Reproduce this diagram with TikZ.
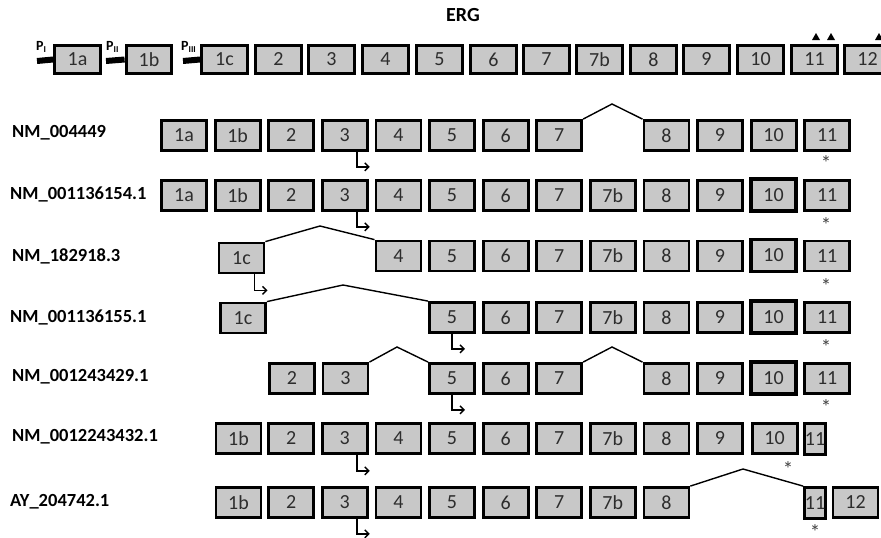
\documentclass[tikz,border=0pt]{standalone}
\usepackage{fontspec}
\setmainfont{Carlito}
\usetikzlibrary{arrows.meta}
\definecolor{exfill}{RGB}{200,200,200}
\definecolor{extext}{RGB}{45,45,45}
\newcommand{\astmark}{\raisebox{-0.54em}[0pt][0pt]{*}}
\begin{document}
\begin{tikzpicture}[x=1pt,y=-1pt,
  exon/.style={draw, line width=2.8pt, fill=exfill, minimum width=45pt, minimum height=30pt, inner sep=0pt, font=\fontsize{20}{20}\selectfont, text=extext},
  topexon/.style={exon, line width=3.3pt, minimum width=45.5pt, minimum height=27.5pt},
  thickten/.style={exon, line width=3.4pt, minimum height=32pt},
  narrowexon/.style={exon, minimum width=21pt, minimum height=31pt},
  lbl/.style={anchor=west, inner sep=0pt, font=\bfseries\fontsize{18.5}{18.5}\selectfont},
  plbl/.style={anchor=west, inner sep=0pt, font=\bfseries\fontsize{14}{14}\selectfont},
  promoter/.style={line width=6pt},
  splice/.style={line width=1.4pt},
  tss/.style={line width=1.4pt, -{Straight Barb[length=4pt,width=8pt,line width=1.4pt]}},
  star/.style={inner sep=0pt, font=\fontsize{21}{21}\selectfont, text=black!75},
  mark tri/.style={fill=black}
]
\useasboundingbox (0,0) rectangle (881,538);

% title
\node[font=\bfseries\fontsize{20}{20}\selectfont] (title) at (463,15) {ERG};

% genomic structure
\foreach \n/\x in {1a/77.5,1b/149,1c/224.5,2/278.5,3/331.5,4/385.5,5/439.5,6/493.5,7/546.5,7b/599.5,8/653.5,9/706.5,10/760.5,11/814.5,12/867.5}
  \node[topexon] (t\n) at (\x,59.5) {\n};
\coordinate (pa) at (37,61);
\coordinate (pb) at (106,61);
\coordinate (pc) at (183,61);
\draw[promoter] (pa) -- (t1a.west);
\draw[promoter] (pb) -- (t1b.west);
\draw[promoter] (pc) -- (t1c.west);
\node[plbl] (lpa) at (36,47) {P\raisebox{-0.35ex}{\fontsize{9}{9}\selectfont I}};
\node[plbl] (lpb) at (106,47) {P\raisebox{-0.35ex}{\fontsize{9}{9}\selectfont II}};
\node[plbl] (lpc) at (181,47) {P\raisebox{-0.35ex}{\fontsize{9}{9}\selectfont III}};
\fill[mark tri] (812,40) -- (820,40) -- (816,33) -- cycle;
\fill[mark tri] (827,40) -- (835,40) -- (831,33) -- cycle;
\fill[mark tri] (875,40) -- (883,40) -- (879,33) -- cycle;

% row 1
\node[lbl] (l1) at (12,133) {NM\_004449};
\foreach \n/\x in {1a/184,1b/237.6,2/291.2,3/344.8,4/398.4,5/452,6/505.6,7/559.2,8/666.4,9/720,10/773.6,11/827.2}
  \node[exon] (r1-\n) at (\x,135.5) {\n};
\coordinate (k1) at (612,104);
\draw[splice] (r1-7.north east) -- (k1) -- (r1-8.north west);
\draw[tss] ([xshift=12pt]r1-3.south) -- ++(0,15) -- ++(13,0);
\node[star] (s1) at (826,159) {\astmark};

% row 2
\node[lbl] (l2) at (10,194) {NM\_001136154.1};
\foreach \n/\x in {1a/184,1b/237.6,2/291.2,3/344.8,4/398.4,5/452,6/505.6,7/559.2,7b/612.8,8/666.4,9/720,11/827.2}
  \node[exon] (r2-\n) at (\x,195.5) {\n};
\node[thickten] (r2-10) at (773.6,195) {10};
\draw[tss] ([xshift=12pt]r2-3.south) -- ++(0,15) -- ++(13,0);
\node[star] (s2) at (826,221) {\astmark};

% row 3
\node[lbl] (l3) at (12,256) {NM\_182918.3};
\node[exon] (r3-1c) at (241.5,258) {1c};
\foreach \n/\x in {4/398.4,5/452,6/505.6,7/559.2,7b/612.8,8/666.4,9/720,11/827.2}
  \node[exon] (r3-\n) at (\x,256) {\n};
\node[thickten] (r3-10) at (773.6,255.5) {10};
\coordinate (k3) at (320,226);
\draw[splice] (r3-1c.north east) -- (k3) -- (r3-4.north west);
\draw[tss] ([xshift=13pt]r3-1c.south) -- ++(0,16) -- ++(13,0);
\node[star] (s3) at (826,282) {\astmark};

% row 4
\node[lbl] (l4) at (10,317) {NM\_001136155.1};
\node[exon] (r4-1c) at (243,318) {1c};
\foreach \n/\x in {5/452,6/505.6,7/559.2,7b/612.8,8/666.4,9/720,11/827.2}
  \node[exon] (r4-\n) at (\x,317.5) {\n};
\node[thickten] (r4-10) at (773.6,317) {10};
\coordinate (k4) at (343,285);
\draw[splice] (r4-1c.north east) -- (k4) -- (r4-5.north west);
\draw[tss] (r4-5.south) -- ++(0,15) -- ++(13,0);
\node[star] (s4) at (826,343) {\astmark};

% row 5
\node[lbl] (l5) at (12,377) {NM\_001243429.1};
\foreach \n/\x in {2/292,3/345.5,5/452,6/505.6,7/559.2,8/666.4,9/720,11/827.2}
  \node[exon] (r5-\n) at (\x,378.5) {\n};
\node[thickten] (r5-10) at (773.6,378) {10};
\coordinate (k5a) at (397,347);
\coordinate (k5b) at (612,347);
\draw[splice] (r5-3.north east) -- (k5a) -- (r5-5.north west);
\draw[splice] (r5-7.north east) -- (k5b) -- (r5-8.north west);
\draw[tss] (r5-5.south) -- ++(0,15) -- ++(13,0);
\node[star] (s5) at (826,403) {\astmark};

% row 6
\node[lbl] (l6) at (12,437) {NM\_0012243432.1};
\foreach \n/\x in {1b/238.5,2/291.2,3/344.8,4/398.4,5/452,6/505.6,7/559.2,7b/612.8,8/666.4,9/720,10/774.6}
  \node[exon] (r6-\n) at (\x,438.5) {\n};
\node[narrowexon] (r6-11) at (815,439) {11};
\draw[tss] ([xshift=12pt]r6-3.south) -- ++(0,16) -- ++(13,0);
\node[star] (s6) at (788,465) {\astmark};

% row 7
\node[lbl] (l7) at (10,502) {AY\_204742.1};
\foreach \n/\x in {1b/238.5,2/291.2,3/344.8,4/398.4,5/452,6/505.6,7/559.2,7b/612.8,8/666.4}
  \node[exon] (r7-\n) at (\x,502.5) {\n};
\node[narrowexon] (r7-11) at (815,503) {11};
\node[exon] (r7-12) at (855.5,502.5) {12};
\coordinate (k7) at (743,469);
\draw[splice] (r7-8.north east) -- (k7) -- (r7-11.north west);
\draw[tss] ([xshift=12pt]r7-3.south) -- ++(0,15) -- ++(13,0);
\node[star] (s7) at (815,528) {\astmark};
\end{tikzpicture}
\end{document}
